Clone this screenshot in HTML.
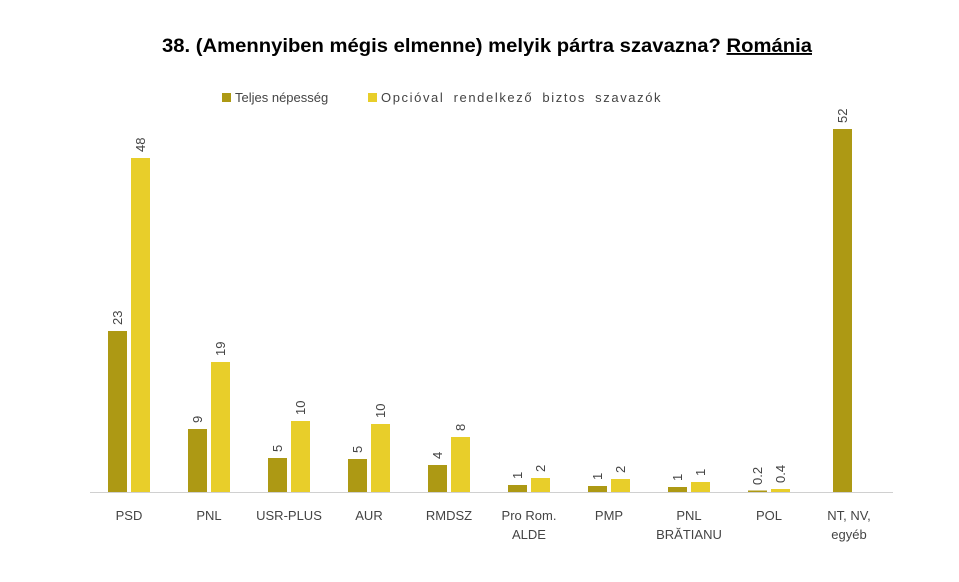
<!DOCTYPE html>
<html><head><meta charset="utf-8"><style>body{margin:0;background:#fff}svg{display:block}</style></head>
<body>
<svg width="959" height="582" xmlns="http://www.w3.org/2000/svg" font-family="Liberation Sans, sans-serif">
<text x="162" y="52" font-size="19" font-weight="bold" fill="#000" textLength="650" lengthAdjust="spacingAndGlyphs">38. (Amennyiben mégis elmenne) melyik pártra szavazna? <tspan text-decoration="underline">Románia</tspan></text>
<rect x="222" y="93" width="9" height="9" fill="#AD9914"/>
<text x="235" y="102" font-size="13" fill="#444">Teljes népesség</text>
<rect x="368" y="93" width="9" height="9" fill="#E8CE2A"/>
<text x="381" y="102" font-size="13" fill="#444" letter-spacing="1.6" word-spacing="4">Opcióval rendelkező biztos szavazók</text>
<line x1="90" y1="492.5" x2="893" y2="492.5" stroke="#d0d0d0" stroke-width="1"/>
<g font-size="13" fill="#444">
<rect x="108" y="331" width="19" height="161" fill="#AD9914"/><text transform="translate(122,325) rotate(-90)">23</text>
<rect x="131" y="158" width="19" height="334" fill="#E8CE2A"/><text transform="translate(145,152) rotate(-90)">48</text>
<text x="129" y="520" text-anchor="middle">PSD</text>
<rect x="188" y="429" width="19" height="63" fill="#AD9914"/><text transform="translate(202,423) rotate(-90)">9</text>
<rect x="211" y="362" width="19" height="130" fill="#E8CE2A"/><text transform="translate(225,356) rotate(-90)">19</text>
<text x="209" y="520" text-anchor="middle">PNL</text>
<rect x="268" y="458" width="19" height="34" fill="#AD9914"/><text transform="translate(282,452) rotate(-90)">5</text>
<rect x="291" y="421" width="19" height="71" fill="#E8CE2A"/><text transform="translate(305,415) rotate(-90)">10</text>
<text x="289" y="520" text-anchor="middle">USR-PLUS</text>
<rect x="348" y="459" width="19" height="33" fill="#AD9914"/><text transform="translate(362,453) rotate(-90)">5</text>
<rect x="371" y="424" width="19" height="68" fill="#E8CE2A"/><text transform="translate(385,418) rotate(-90)">10</text>
<text x="369" y="520" text-anchor="middle">AUR</text>
<rect x="428" y="465" width="19" height="27" fill="#AD9914"/><text transform="translate(442,459) rotate(-90)">4</text>
<rect x="451" y="437" width="19" height="55" fill="#E8CE2A"/><text transform="translate(465,431) rotate(-90)">8</text>
<text x="449" y="520" text-anchor="middle">RMDSZ</text>
<rect x="508" y="485" width="19" height="7" fill="#AD9914"/><text transform="translate(522,479) rotate(-90)">1</text>
<rect x="531" y="478" width="19" height="14" fill="#E8CE2A"/><text transform="translate(545,472) rotate(-90)">2</text>
<text x="529" y="520" text-anchor="middle">Pro Rom.</text><text x="529" y="539" text-anchor="middle">ALDE</text>
<rect x="588" y="486" width="19" height="6" fill="#AD9914"/><text transform="translate(602,480) rotate(-90)">1</text>
<rect x="611" y="479" width="19" height="13" fill="#E8CE2A"/><text transform="translate(625,473) rotate(-90)">2</text>
<text x="609" y="520" text-anchor="middle">PMP</text>
<rect x="668" y="487" width="19" height="5" fill="#AD9914"/><text transform="translate(682,481) rotate(-90)">1</text>
<rect x="691" y="482" width="19" height="10" fill="#E8CE2A"/><text transform="translate(705,476) rotate(-90)">1</text>
<text x="689" y="520" text-anchor="middle">PNL</text><text x="689" y="539" text-anchor="middle">BRĂTIANU</text>
<rect x="748" y="490.5" width="19" height="1.5" fill="#AD9914"/><text transform="translate(762,485) rotate(-90)">0.2</text>
<rect x="771" y="489" width="19" height="3" fill="#E8CE2A"/><text transform="translate(785,483) rotate(-90)">0.4</text>
<text x="769" y="520" text-anchor="middle">POL</text>
<rect x="833" y="129" width="19" height="363" fill="#AD9914"/><text transform="translate(847,123) rotate(-90)">52</text>
<text x="849" y="520" text-anchor="middle">NT, NV,</text><text x="849" y="539" text-anchor="middle">egyéb</text>
</g>
</svg>
</body></html>
